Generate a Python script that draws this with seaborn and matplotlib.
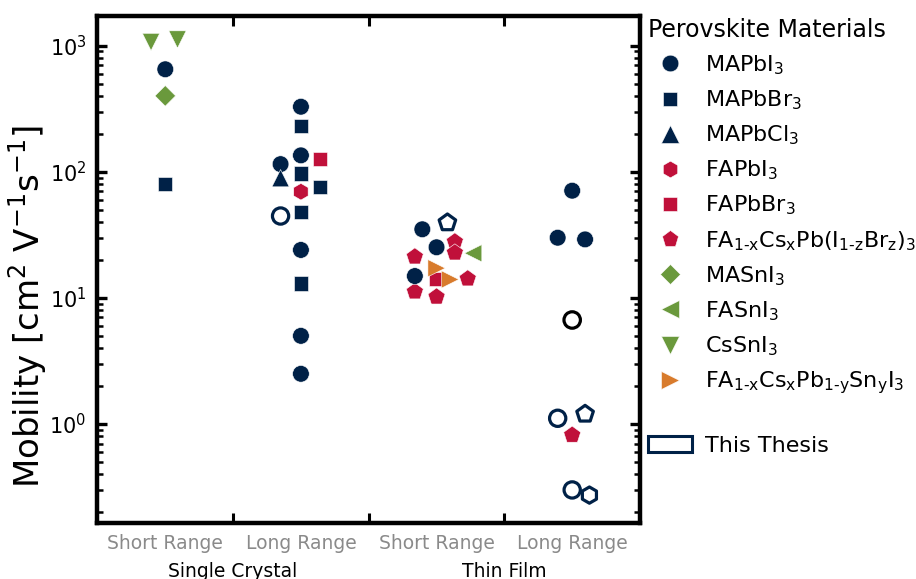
import matplotlib
matplotlib.use("Agg")
import matplotlib.pyplot as plt
import matplotlib.transforms as mtransforms
from matplotlib.lines import Line2D
from matplotlib.patches import Patch
from matplotlib.ticker import FixedLocator, NullFormatter, LogLocator
import pandas as pd
import seaborn as sns

sns.set_theme(style="ticks")
plt.rcParams["font.family"] = ["DejaVu Sans"]
plt.rcParams["mathtext.default"] = "regular"
plt.rcParams["text.color"] = "black"
plt.rcParams["axes.labelcolor"] = "black"
plt.rcParams["xtick.color"] = "black"
plt.rcParams["ytick.color"] = "black"

# ---- categories -------------------------------------------------------------
range_labels = ["Short Range", "Long Range", "Short Range", "Long Range"]
sample_labels = ["Single Crystal", "Thin Film"]

materials = ["MAPbI3", "MAPbBr3", "MAPbCl3", "FAPbI3", "FAPbBr3",
             "FACsPbIBr", "MASnI3", "FASnI3", "CsSnI3", "FACsPbSnI"]
material_labels = [
    "MAPbI$_3$", "MAPbBr$_3$", "MAPbCl$_3$", "FAPbI$_3$", "FAPbBr$_3$",
    "FA$_{1\u2010x}$Cs$_x$Pb(I$_{1\u2010z}$Br$_z$)$_3$",
    "MASnI$_3$", "FASnI$_3$", "CsSnI$_3$",
    "FA$_{1\u2010x}$Cs$_x$Pb$_{1\u2010y}$Sn$_y$I$_3$",
]

# ---- literature values (column: 0 SC short, 1 SC long, 2 TF short, 3 TF long)
lit_material = [
    "CsSnI3", "CsSnI3", "MAPbI3", "MASnI3", "MAPbBr3",
    "MAPbI3", "MAPbBr3", "MAPbI3", "FAPbBr3", "MAPbI3", "MAPbCl3", "MAPbBr3",
    "MAPbBr3", "FAPbI3", "MAPbBr3", "MAPbI3", "MAPbBr3", "MAPbI3", "MAPbI3",
    "MAPbI3", "MAPbI3", "FACsPbIBr", "FACsPbIBr", "FASnI3", "FACsPbIBr",
    "FACsPbIBr", "FACsPbIBr", "MAPbI3", "FAPbBr3", "FACsPbIBr",
    "FACsPbSnI", "FACsPbSnI",
    "MAPbI3", "MAPbI3", "MAPbI3", "FACsPbIBr",
]
lit_column = [
    0, 0, 0, 0, 0,
    1, 1, 1, 1, 1, 1, 1, 1, 1, 1, 1, 1, 1, 1,
    2, 2, 2, 2, 2, 2, 2, 2, 2, 2, 2, 2, 2,
    3, 3, 3, 3,
]
lit_jitter = [
    -0.105, 0.09, 0.0, 0.0, 0.0,
    0.0, 0.0, 0.0, 0.14, -0.15, -0.15, 0.0, 0.14, 0.0, 0.0, 0.0, 0.0, 0.0, 0.0,
    -0.105, 0.0, 0.135, 0.135, 0.27, -0.16, -0.16, 0.0, -0.16, 0.0, 0.23,
    0.0, 0.10,
    0.0, -0.107, 0.095, 0.0,
]
lit_mobility = [
    1070, 1120, 650, 400, 80,
    328, 231, 135, 126, 115, 89, 97, 76, 69.5, 48, 24, 13, 5.0, 2.5,
    35, 25.2, 27.9, 22.8, 22.6, 21.2, 11.2, 10.2, 14.9, 14.2, 14.2,
    17.2, 14.0,
    70.8, 30, 29.1, 0.818,
]

# ---- values measured in this thesis -------------------------------------------
thesis_material = ["MAPbI3", "FACsPbIBr", "MAPbI3", "FACsPbIBr", "MAPbI3", "FAPbI3"]
thesis_column = [1, 2, 3, 3, 3, 3]
thesis_jitter = [-0.15, 0.08, -0.107, 0.095, 0.0, 0.127]
thesis_mobility = [44.6, 39.5, 1.11, 1.2, 0.30, 0.273]

# reference film measurement shown as a black open circle
ref_column = [3]
ref_jitter = [0.0]
ref_mobility = [6.68]

# ---- styling ----------------------------------------------------------------
navy = "#002147"
crimson = "#C0103A"
green = "#6A993C"
orange = "#D87B2C"

colors = {"MAPbI3": navy, "MAPbBr3": navy, "MAPbCl3": navy,
          "FAPbI3": crimson, "FAPbBr3": crimson, "FACsPbIBr": crimson,
          "MASnI3": green, "FASnI3": green, "CsSnI3": green,
          "FACsPbSnI": orange}
markers = {"MAPbI3": "o", "MAPbBr3": "s", "MAPbCl3": "^",
           "FAPbI3": "h", "FAPbBr3": "s", "FACsPbIBr": "p",
           "MASnI3": "D", "FASnI3": "<", "CsSnI3": "v", "FACsPbSnI": ">"}
sizes = {"MAPbI3": 144, "MAPbBr3": 106, "MAPbCl3": 155,
         "FAPbI3": 144, "FAPbBr3": 106, "FACsPbIBr": 165,
         "MASnI3": 110, "FASnI3": 155, "CsSnI3": 155, "FACsPbSnI": 155}

fig = plt.figure(figsize=(9.16, 5.79), dpi=100)
ax = fig.add_axes([0.1064, 0.0967, 0.5923, 0.8757])

lit = pd.DataFrame({"material": lit_material, "column": lit_column,
                    "jitter": lit_jitter, "mobility": lit_mobility})
lit["x"] = lit["column"] + lit["jitter"]

sns.scatterplot(data=lit, x="x", y="mobility", hue="material", style="material",
                size="material", palette=colors, markers=markers, sizes=sizes,
                hue_order=materials, style_order=materials, size_order=materials,
                edgecolor="white", linewidth=0.4, legend=False, ax=ax, zorder=3)

for m, c, j, v in zip(thesis_material, thesis_column, thesis_jitter, thesis_mobility):
    sns.scatterplot(x=[c + j], y=[v], marker=markers[m], s=sizes[m] * 0.95,
                    color=navy, facecolor="none", edgecolor=navy,
                    linewidth=2.3, ax=ax, zorder=4)

for c, j, v in zip(ref_column, ref_jitter, ref_mobility):
    sns.scatterplot(x=[c + j], y=[v], marker="o", s=140, color="black",
                    facecolor="none", edgecolor="black", linewidth=2.3,
                    ax=ax, zorder=4)

# ---- axes -------------------------------------------------------------------
ax.set_yscale("log")
ax.set_ylim(0.164, 1720)
ax.set_xlim(-0.5, 3.5)

ax.xaxis.set_major_locator(FixedLocator([0.5, 1.5, 2.5]))
ax.xaxis.set_major_formatter(NullFormatter())
ax.xaxis.set_minor_locator(FixedLocator([0, 1, 2, 3]))
ax.set_xticklabels(range_labels, minor=True)
ax.yaxis.set_major_locator(LogLocator(base=10, numticks=10))
ax.yaxis.set_minor_locator(LogLocator(base=10, subs=range(2, 10), numticks=20))

for s in ax.spines.values():
    s.set_linewidth(3.2)
    s.set_color("black")

ax.tick_params(which="both", direction="in", top=True, right=True, color="black")
ax.tick_params(axis="y", which="major", length=7.5, width=2.4, labelsize=15, pad=8,
               labelcolor="black")
ax.tick_params(axis="y", which="minor", length=4, width=1.8)
ax.tick_params(axis="x", which="major", length=7, width=2.2)
ax.tick_params(axis="x", which="minor", length=0, labelsize=13.5, pad=8,
               labelcolor="#8a8a8a")

ax.set_xlabel("")
ax.set_ylabel("Mobility [cm$^2$ V$^{-1}$s$^{-1}$]", fontsize=24.5)
ax.yaxis.set_label_coords(-0.128, 0.427)
ax.yaxis.label.set_va("center")

trans = mtransforms.blended_transform_factory(ax.transData, ax.transAxes)
for xpos, txt in zip([0.5, 2.5], sample_labels):
    ax.text(xpos, -0.106, txt, transform=trans, ha="center", va="baseline",
            fontsize=13.5, color="black")

# ---- legend -----------------------------------------------------------------
handles = [Line2D([], [], ls="none", marker=markers[m], color=colors[m],
                  markeredgecolor="white", markeredgewidth=0.4,
                  markersize=sizes[m] ** 0.5)
           for m in materials]
labels = list(material_labels)
handles.append(Line2D([], [], ls="none"))
labels.append(" ")
handles.append(Patch(facecolor="white", edgecolor=navy, linewidth=2.2))
labels.append("This Thesis")

leg = fig.legend(handles, labels, loc="upper left", bbox_to_anchor=(0.6972, 0.985),
                 frameon=False, fontsize=16, title="Perovskite Materials",
                 title_fontsize=17, alignment="left", handlelength=2.0,
                 labelspacing=0.52, handletextpad=0.6, borderaxespad=0.0)
leg.get_texts()[10].set_fontsize(5)

fig.savefig("out.png", dpi=100)
